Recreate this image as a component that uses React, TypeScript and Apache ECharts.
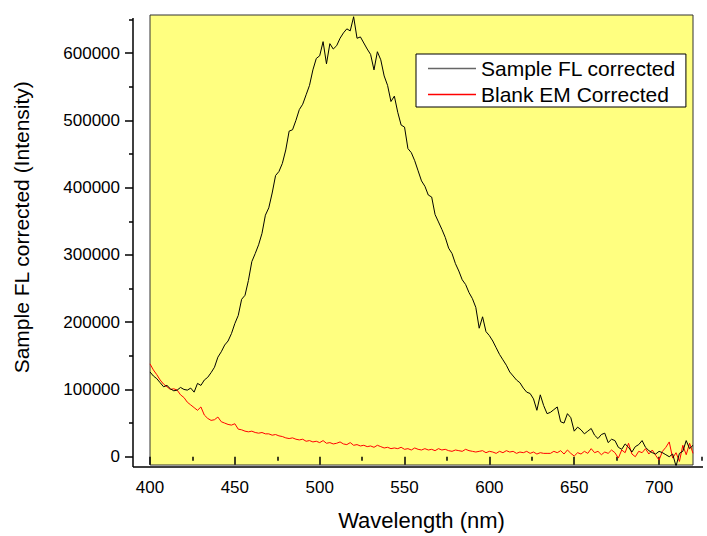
import React, { useEffect, useRef } from "react";
import * as echarts from "echarts";

// Wavelength sampling (nm)
const wavelengths = [
  400, 402, 404, 406, 408, 410, 412, 414, 416, 418,
  420, 422, 424, 426, 428, 430, 432, 434, 436, 438,
  440, 442, 444, 446, 448, 450, 452, 454, 456, 458,
  460, 462, 464, 466, 468, 470, 472, 474, 476, 478,
  480, 482, 484, 486, 488, 490, 492, 494, 496, 498,
  500, 502, 504, 506, 508, 510, 512, 514, 516, 518,
  520, 522, 524, 526, 528, 530, 532, 534, 536, 538,
  540, 542, 544, 546, 548, 550, 552, 554, 556, 558,
  560, 562, 564, 566, 568, 570, 572, 574, 576, 578,
  580, 582, 584, 586, 588, 590, 592, 594, 596, 598,
  600, 602, 604, 606, 608, 610, 612, 614, 616, 618,
  620, 622, 624, 626, 628, 630, 632, 634, 636, 638,
  640, 642, 644, 646, 648, 650, 652, 654, 656, 658,
  660, 662, 664, 666, 668, 670, 672, 674, 676, 678,
  680, 682, 684, 686, 688, 690, 692, 694, 696, 698,
  700, 702, 704, 706, 708, 710, 712, 714, 716, 718,
  720,
];

// "Sample FL corrected" intensity
const sampleFL = [
  126000, 120000, 116000, 110000, 104000, 106000, 101000, 98000, 99000, 103000,
  100000, 99000, 102000, 96000, 109000, 106000, 114000, 118000, 125000, 133000,
  148000, 156000, 166000, 172000, 183000, 198000, 210000, 234000, 240000, 262000,
  290000, 302000, 315000, 332000, 359000, 370000, 392000, 418000, 424000, 436000,
  456000, 484000, 486000, 500000, 516000, 524000, 538000, 552000, 575000, 592000,
  596000, 617000, 584000, 614000, 606000, 611000, 622000, 630000, 636000, 633000,
  654000, 622000, 624000, 615000, 606000, 598000, 575000, 602000, 590000, 566000,
  552000, 528000, 536000, 512000, 493000, 490000, 458000, 452000, 440000, 425000,
  410000, 402000, 389000, 386000, 360000, 349000, 338000, 326000, 310000, 302000,
  287000, 276000, 263000, 256000, 244000, 235000, 222000, 191000, 208000, 186000,
  180000, 172000, 162000, 152000, 144000, 136000, 126000, 120000, 114000, 110000,
  102000, 96000, 94000, 86000, 69000, 92000, 76000, 64000, 66000, 70000,
  74000, 52000, 50000, 64000, 58000, 38000, 44000, 40000, 34000, 38000,
  42000, 32000, 27000, 33000, 35000, 21000, 26000, 24000, 14000, 11000,
  19000, 14000, 7000, 15000, 18000, 24000, 14000, 9000, 6000, 4000,
  8000, 6000, 3000, 0, 4000, -14000, 5000, 8000, 24000, 12000,
  17000,
];

// "Blank EM Corrected" intensity
const blankEM = [
  138000, 129000, 122000, 114000, 108000, 104000, 100000, 101000, 99000, 92000,
  88000, 81000, 77000, 73000, 69000, 74000, 62000, 57000, 54000, 55000,
  59000, 52000, 50000, 48000, 47000, 49000, 41000, 40000, 38000, 37000,
  38000, 36000, 35000, 36000, 34000, 34000, 32000, 33000, 31000, 30000,
  28000, 27000, 28000, 26000, 25000, 26000, 23000, 24000, 22000, 23000,
  21000, 24000, 20000, 21000, 19000, 20000, 22000, 19000, 18000, 21000,
  17000, 18000, 16000, 17000, 15000, 16000, 14000, 17000, 15000, 13000,
  14000, 12000, 13000, 12000, 14000, 11000, 12000, 10000, 13000, 11000,
  10000, 12000, 10000, 11000, 9000, 12000, 10000, 11000, 9000, 8000,
  10000, 9000, 8000, 11000, 9000, 8000, 7000, 8000, 9000, 6000,
  8000, 7000, 5000, 8000, 6000, 9000, 7000, 8000, 5000, 7000,
  6000, 8000, 5000, 7000, 4000, 6000, 5000, 5000, 5000, 8000,
  6000, 9000, 4000, 10000, 5000, 1000, 6000, 4000, 8000, 5000,
  12000, 6000, 8000, 3000, 7000, 5000, 10000, 6000, -2000, 10000,
  6000, 20000, 4000, 0, 8000, 6000, 12000, 4000, 10000, 2000,
  -5000, 8000, 14000, 22000, -2000, 6000, -7000, 17000, 3000, 20000,
  5000,
];

const seriesNames = ["Sample FL corrected", "Blank EM Corrected"];
const xTitle = "Wavelength (nm)";
const yTitle = "Sample FL corrected (Intensity)";

// Axis ranges
const X_MIN = 400;
const X_MAX = 720;
const Y_MIN = -12300;
const Y_MAX = 656600;
const X_TICK_MAX = 750;
const Y_TICK_MAX = 700000;

const FONT = "'Liberation Sans', Arial, Helvetica, sans-serif";

export default function App() {
  const ref = useRef<HTMLDivElement>(null);

  useEffect(() => {
    if (!ref.current) return;
    const chart = echarts.init(ref.current, undefined, { renderer: "svg" });

    const gLeft = 150;
    const gTop = 15;
    const gW = 543;
    const gH = 450;
    const pxX = gW / (X_MAX - X_MIN);
    const pxY = gH / (Y_MAX - Y_MIN);
    const zeroY = gTop + Y_MAX * pxY;
    const g1Top = zeroY - Y_TICK_MAX * pxY;
    const g1H = Y_TICK_MAX * pxY;
    const g1W = (X_TICK_MAX - X_MIN) * pxX;
    const axisX = 133;
    const axisY = 467;

    const tickLabel = { color: "#000", fontSize: 17, fontFamily: FONT };

    chart.setOption({
      animation: false,
      backgroundColor: "#ffffff",
      grid: [
        {
          left: gLeft,
          top: gTop,
          width: gW,
          height: gH,
          show: true,
          backgroundColor: "#FFFF80",
          borderColor: "#333",
          borderWidth: 1,
          outerBoundsMode: "none",
          containLabel: false,
        },
        {
          left: gLeft,
          top: g1Top,
          width: g1W,
          height: g1H,
          show: false,
          outerBoundsMode: "none",
          containLabel: false,
        },
      ],
      xAxis: [
        {
          gridIndex: 0,
          type: "value",
          min: X_MIN,
          max: X_MAX,
          axisLine: { show: false },
          axisTick: { show: false },
          axisLabel: { show: false },
          splitLine: { show: false },
          name: xTitle,
          nameLocation: "middle",
          nameGap: 44,
          nameTextStyle: { color: "#000", fontSize: 22, fontFamily: FONT },
        },
        {
          gridIndex: 1,
          type: "value",
          min: X_MIN,
          max: X_TICK_MAX,
          interval: 50,
          offset: axisY - zeroY,
          axisLine: { show: false },
          axisTick: { show: true, inside: false, length: 8, lineStyle: { color: "#000", width: 1.5 } },
          minorTick: { show: true, splitNumber: 2, length: 4, lineStyle: { color: "#000", width: 1.5 } },
          axisLabel: {
            ...tickLabel,
            margin: 12,
            formatter: (v: number) => (v > X_MAX ? "" : String(v)),
          },
          splitLine: { show: false },
        },
      ],
      yAxis: [
        {
          gridIndex: 0,
          type: "value",
          min: Y_MIN,
          max: Y_MAX,
          show: false,
          splitLine: { show: false },
        },
        {
          gridIndex: 1,
          type: "value",
          min: 0,
          max: Y_TICK_MAX,
          interval: 100000,
          offset: gLeft - axisX,
          axisLine: { show: false },
          axisTick: { show: true, inside: false, length: 8, lineStyle: { color: "#000", width: 1.5 } },
          minorTick: { show: true, splitNumber: 2, length: 4, lineStyle: { color: "#000", width: 1.5 } },
          axisLabel: {
            ...tickLabel,
            margin: 13,
            formatter: (v: number) => (v > Y_MAX ? "" : String(v)),
          },
          splitLine: { show: false },
          name: yTitle,
          nameLocation: "middle",
          nameGap: 101,
          nameTextStyle: { color: "#000", fontSize: 21, fontFamily: FONT, padding: [0, 12, 0, 0] },
        },
      ],
      legend: {
        show: true,
        orient: "vertical",
        left: 416,
        top: 54,
        padding: [4, 10, 2, 12],
        itemGap: 5,
        itemWidth: 48,
        itemHeight: 1.5,
        icon: "rect",
        backgroundColor: "#ffffff",
        borderColor: "#000",
        borderWidth: 1,
        borderRadius: 0,
        textStyle: { color: "#000", fontSize: 21, fontFamily: FONT },
        data: [
          { name: seriesNames[0], icon: "rect", itemStyle: { color: "#666" } },
          { name: seriesNames[1], icon: "rect", itemStyle: { color: "#ff0000" } },
        ],
      },
      series: [
        {
          name: seriesNames[0],
          type: "line",
          xAxisIndex: 0,
          yAxisIndex: 0,
          symbol: "none",
          showSymbol: false,
          data: wavelengths.map((w, i) => [w, sampleFL[i]]),
          lineStyle: { color: "#000", width: 1 },
          itemStyle: { color: "#000" },
          z: 3,
        },
        {
          name: seriesNames[1],
          type: "line",
          xAxisIndex: 0,
          yAxisIndex: 0,
          symbol: "none",
          showSymbol: false,
          data: wavelengths.map((w, i) => [w, blankEM[i]]),
          lineStyle: { color: "#ff0000", width: 1 },
          itemStyle: { color: "#ff0000" },
          z: 2,
        },
      ],
      graphic: [
        {
          type: "line",
          silent: true,
          shape: { x1: axisX, y1: 18, x2: axisX, y2: axisY },
          style: { stroke: "#000", lineWidth: 1.5 },
          z: 10,
        },
        {
          type: "line",
          silent: true,
          shape: { x1: axisX, y1: axisY, x2: 703, y2: axisY },
          style: { stroke: "#000", lineWidth: 1.5 },
          z: 10,
        },
      ],
    });

    return () => chart.dispose();
  }, []);

  return (
    <div
      ref={ref}
      style={{ position: "fixed", left: 0, top: 0, width: 707, height: 536 }}
    />
  );
}
